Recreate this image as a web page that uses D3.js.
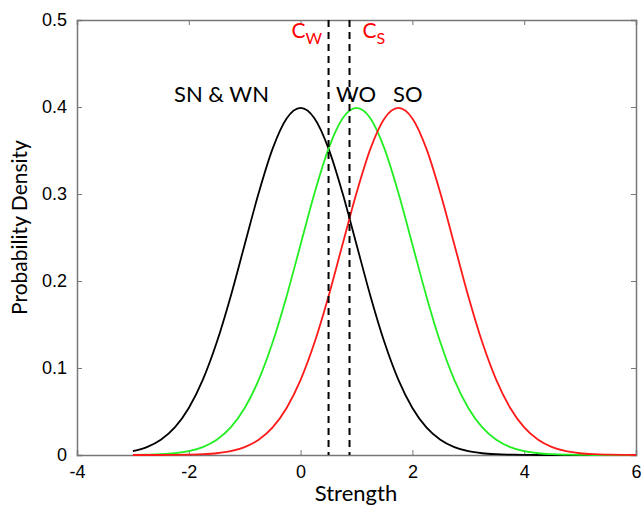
<!DOCTYPE html>
<html lang="en">
<head>
<meta charset="UTF-8">
<title>Strength distributions</title>
<script src="https://cdnjs.cloudflare.com/ajax/libs/d3/7.8.5/d3.min.js"></script>
<style>
  body { margin: 0; background: #fff; }
  .tick text { font-family: "Liberation Sans", Arial, sans-serif; font-size: 18px; fill: #000; }
  .axis path, .axis line { stroke: #777; }
  .lbl { font-family: Lato, "Open Sans", sans-serif; }
</style>
</head>
<body>
<div id="chart"></div>
<script>
// x positions of the sampled points (strength)
var xs = [-3, -2.75, -2.5, -2.25, -2, -1.75, -1.5, -1.25, -1, -0.75, -0.5, -0.25,
  0, 0.25, 0.5, 0.75, 1, 1.25, 1.5, 1.75, 2, 2.25, 2.5, 2.75, 3, 3.25, 3.5, 3.75,
  4, 4.25, 4.5, 4.75, 5, 5.25, 5.5, 5.75, 6];

// SN & WN (black)
var noise = [0.0044, 0.0091, 0.0175, 0.0317, 0.0540, 0.0863, 0.1295, 0.1826, 0.2420, 0.3011, 0.3521, 0.3867,
  0.3989, 0.3867, 0.3521, 0.3011, 0.2420, 0.1826, 0.1295, 0.0863, 0.0540, 0.0317, 0.0175, 0.0091, 0.0044, 0.0020, 0.0009, 0.0004,
  0.0001, 0, 0, 0, 0, 0, 0, 0, 0];

// WO (green)
var weakOld = [0.0001, 0.0004, 0.0009, 0.0020, 0.0044, 0.0091, 0.0175, 0.0317, 0.0540, 0.0863, 0.1295, 0.1826,
  0.2420, 0.3011, 0.3521, 0.3867, 0.3989, 0.3867, 0.3521, 0.3011, 0.2420, 0.1826, 0.1295, 0.0863, 0.0540, 0.0317, 0.0175, 0.0091,
  0.0044, 0.0020, 0.0009, 0.0004, 0.0001, 0, 0, 0, 0];

// SO (red)
var strongOld = [0, 0, 0, 0.0001, 0.0004, 0.0009, 0.0020, 0.0044, 0.0091, 0.0175, 0.0317, 0.0540,
  0.0863, 0.1295, 0.1826, 0.2420, 0.3011, 0.3521, 0.3867, 0.3989, 0.3867, 0.3521, 0.3011, 0.2420, 0.1826, 0.1295, 0.0863, 0.0540,
  0.0317, 0.0175, 0.0091, 0.0044, 0.0020, 0.0009, 0.0004, 0.0001, 0];

// criteria
var criteria = [{ name: "W", x: 0.5 }, { name: "S", x: 0.875 }];

var xTicks = [-4, -2, 0, 2, 4, 6];
var yTicks = [0, 0.1, 0.2, 0.3, 0.4, 0.5];

var svgWidth = 641, svgHeight = 507;
var margin = { top: 20, right: 5, bottom: 52, left: 77 };
var width = svgWidth - margin.left - margin.right;
var height = svgHeight - margin.top - margin.bottom;

var svg = d3.select("#chart").append("svg")
  .attr("width", svgWidth)
  .attr("height", svgHeight);

var g = svg.append("g")
  .attr("transform", `translate(${margin.left}, ${margin.top})`);

var x = d3.scaleLinear().domain([-4, 6]).range([0, width]);
var y = d3.scaleLinear().domain([0, 0.5]).range([height, 0]);

// axes with inward ticks, plus a mirrored box
g.append("g").attr("class", "axis")
  .attr("transform", `translate(0, ${height})`)
  .call(d3.axisBottom(x).tickValues(xTicks).tickSize(-5).tickPadding(10).tickFormat(d => String(d)));
g.append("g").attr("class", "axis")
  .call(d3.axisLeft(y).tickValues(yTicks).tickSize(-5).tickPadding(10).tickFormat(d => d === 0 ? "0" : d3.format(".1f")(d)));
g.append("g").attr("class", "axis")
  .call(d3.axisTop(x).tickValues(xTicks).tickSize(-5).tickFormat(""));
g.append("g").attr("class", "axis")
  .attr("transform", `translate(${width}, 0)`)
  .call(d3.axisRight(y).tickValues(yTicks).tickSize(-5).tickFormat(""));
g.selectAll(".axis path").attr("stroke-width", 1.5);

// curves
var line = d3.line()
  .x((d, i) => x(xs[i]))
  .y(d => y(d))
  .curve(d3.curveMonotoneX);

[[noise, "#000"], [weakOld, "#22ee22"], [strongOld, "#ff1a1a"]].forEach(function(s) {
  g.append("path")
    .datum(s[0])
    .attr("fill", "none")
    .attr("stroke", s[1])
    .attr("stroke-width", 1.8)
    .attr("d", line);
});

// dashed criterion lines
g.selectAll(".crit")
  .data(criteria)
  .enter()
  .append("line")
  .attr("x1", d => x(d.x))
  .attr("x2", d => x(d.x))
  .attr("y1", 0)
  .attr("y2", height)
  .attr("stroke", "#000")
  .attr("stroke-width", 2)
  .attr("stroke-dasharray", "7,5");

// criterion labels
var cw = g.append("text").attr("class", "lbl")
  .attr("x", x(0.5) - 37).attr("y", 18)
  .attr("fill", "#ff0000").style("font-size", "21px");
cw.append("tspan").text("C");
cw.append("tspan").attr("dy", 6).style("font-size", "16px").text("W");

var cs = g.append("text").attr("class", "lbl")
  .attr("x", x(0.875) + 13).attr("y", 18)
  .attr("fill", "#ff0000").style("font-size", "21px");
cs.append("tspan").text("C");
cs.append("tspan").attr("dy", 6).style("font-size", "16px").text("S");

// distribution labels
g.append("text").attr("class", "lbl")
  .attr("x", 97).attr("y", 82)
  .style("font-size", "22px")
  .text("SN & WN");
g.append("text").attr("class", "lbl")
  .attr("x", 259).attr("y", 82)
  .style("font-size", "22px")
  .text("WO");
g.append("text").attr("class", "lbl")
  .attr("x", 316).attr("y", 82)
  .style("font-size", "22px")
  .text("SO");

// axis titles
g.append("text").attr("class", "lbl")
  .attr("x", 279).attr("y", height + 46)
  .attr("text-anchor", "middle")
  .style("font-size", "22px")
  .text("Strength");

g.append("text").attr("class", "lbl")
  .attr("transform", "rotate(-90)")
  .attr("x", -height / 2 + 10).attr("y", -margin.left + 27)
  .attr("text-anchor", "middle")
  .style("font-size", "21px")
  .text("Probability Density");
</script>
</body>
</html>
